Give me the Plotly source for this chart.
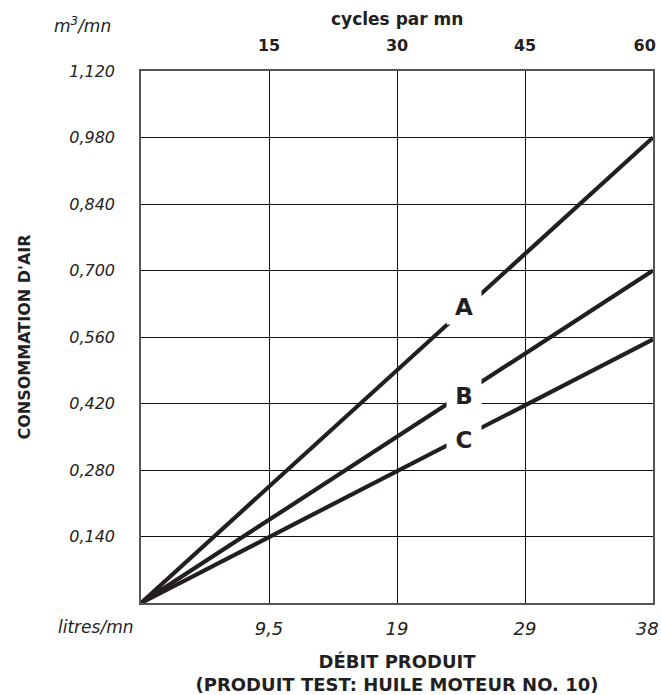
import plotly.graph_objects as go

# ---- data ----
cycles = [0, 60]                      # cycles par mn (x domain)
line_A = [0, 0.980]                   # m3/mn
line_B = [0, 0.700]
line_C = [0, 0.555]
series_names = ["A", "B", "C"]
label_x = [37.85, 37.85, 37.85]
label_y = [0.623, 0.436, 0.343]

top_tickvals = [15, 30, 45, 60]
top_ticktext = ["15", "30", "45", "60\u00a0\u00a0\u00a0"]
bottom_ticktext = ["9,5", "19", "29", "38\u00a0\u00a0"]
y_tickvals = [0.14, 0.28, 0.42, 0.56, 0.70, 0.84, 0.98, 1.12]
y_ticktext = ["0,140", "0,280", "0,420", "0,560", "0,700", "0,840", "0,980", "1,120"]

FONT = "DejaVu Sans, Liberation Sans, Arial, sans-serif"
INK = "#231f20"

fig = go.Figure()
for name, vals in zip(series_names, [line_A, line_B, line_C]):
    fig.add_trace(go.Scatter(x=cycles, y=vals, mode="lines", name=name,
                             line=dict(color=INK, width=4.2), showlegend=False,
                             hoverinfo="skip"))
# invisible trace so the top axis is rendered
fig.add_trace(go.Scatter(x=cycles, y=[0, 0], xaxis="x2", mode="lines",
                         line=dict(width=0), showlegend=False, hoverinfo="skip"))

for name, lx, ly in zip(series_names, label_x, label_y):
    fig.add_annotation(x=lx, y=ly, xref="x", yref="y", text=f"<b>{name}</b>",
                       showarrow=False, bgcolor="white", borderpad=4,
                       width=26, height=26,
                       font=dict(family=FONT, size=23, color=INK))

fig.update_layout(
    width=661, height=695,
    margin=dict(l=141, r=8, t=71, b=92, autoexpand=False),
    paper_bgcolor="white", plot_bgcolor="white",
    font=dict(family=FONT, color=INK),
    xaxis=dict(range=[0, 60], tickvals=top_tickvals, ticktext=bottom_ticktext,
               ticks="", ticklabelstandoff=9, automargin=False,
               ticklabeloverflow="allow",
               tickfont=dict(family=FONT, size=18, style="italic", color="#222"),
               showgrid=True, gridcolor="#111", gridwidth=1,
               showline=True, linecolor="#555", linewidth=1.5, mirror=True,
               zeroline=False,
               title=dict(text="<b>DÉBIT PRODUIT<br>(PRODUIT TEST: HUILE MOTEUR NO. 10)</b>",
                          font=dict(family=FONT, size=18, color=INK), standoff=18)),
    xaxis2=dict(range=[0, 60], overlaying="x", side="top", anchor="y",
                tickvals=top_tickvals, ticktext=top_ticktext, ticks="",
                ticklabelstandoff=16, automargin=False,
                ticklabeloverflow="allow",
                tickfont=dict(family=FONT, size=16, weight="bold", color=INK),
                showgrid=False, zeroline=False, showline=False),
    yaxis=dict(range=[0, 1.12], tickvals=y_tickvals, ticktext=y_ticktext,
               ticks="", ticklabelstandoff=21, automargin=False,
               tickfont=dict(family=FONT, size=16, style="italic", color="#222"),
               showgrid=True, gridcolor="#111", gridwidth=1,
               showline=True, linecolor="#555", linewidth=1.5, mirror=True,
               zeroline=False,
               title=dict(text="<b>CONSOMMATION D'AIR</b>",
                          font=dict(family=FONT, size=16, color=INK), standoff=35)),
)

fig.add_annotation(xref="paper", yref="paper", x=0.5, y=1, yshift=64,
                   text="<b>cycles par mn</b>", showarrow=False,
                   font=dict(family=FONT, size=17, color=INK))
fig.add_annotation(xref="paper", yref="paper", x=-0.055, y=1, yshift=59,
                   xanchor="right", text="<i>m<sup>3</sup>/mn</i>", showarrow=False,
                   font=dict(family=FONT, size=17, color="#222"))
fig.add_annotation(xref="paper", yref="paper", x=-0.012, y=0, yshift=-36,
                   xanchor="right", text="<i>litres/mn</i>", showarrow=False,
                   font=dict(family=FONT, size=17, color="#222"))

fig.write_html("out.html", config={"displayModeBar": False},
               post_script="document.body.style.margin='0';")
